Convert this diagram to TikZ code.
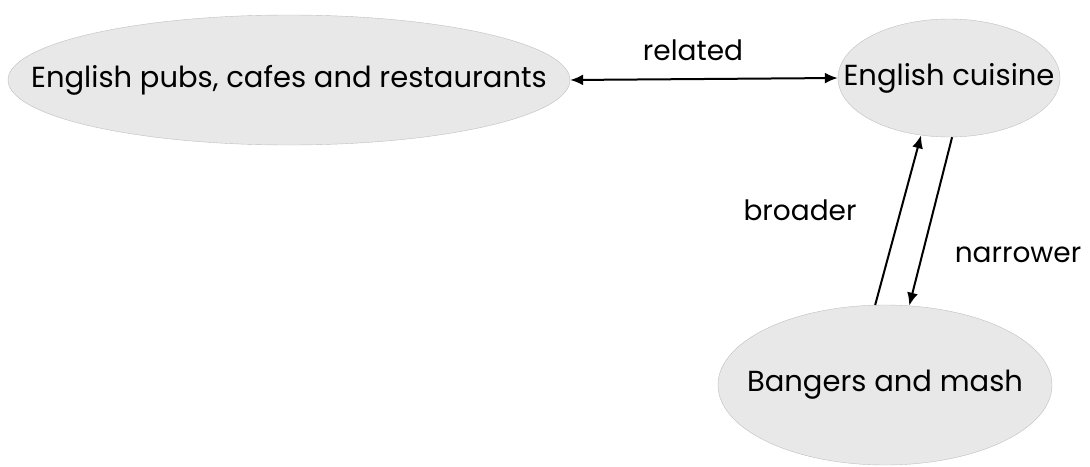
\documentclass[tikz,border=0pt]{standalone}
\usepackage{fontspec}
\setmainfont{Poppins}
\usetikzlibrary{shapes.geometric,arrows.meta}

\begin{document}
\begin{tikzpicture}
[
	x=1pt, y=-1pt,
	concept/.style={ellipse,draw=black!25,fill=black!9,inner xsep=-60pt,inner ysep=0pt,font=\fontsize{29}{32}\selectfont},
	lbl/.style={font=\fontsize{28}{32}\selectfont},
	link/.style={line width=2pt,>={Latex[length=13pt,width=11pt]}}
]

	\useasboundingbox (0,0) rectangle (1090,466);

	% concepts
	\node[concept, minimum width=562pt, minimum height=130pt] (pubs) at (289,80) {English pubs, cafes and restaurants};
	\node[concept, minimum width=222pt, minimum height=118pt] (cuisine) at (949,78) {English cuisine};
	\node[concept, minimum width=334pt, minimum height=160pt] (bangers) at (885,385) {Bangers and mash};

	% relations
	\draw[link,<->] (pubs.east) -- (cuisine.west);
	\draw[link,->] (bangers.97) -- (cuisine.-116);
	\draw[link,->] (cuisine.-87) -- (bangers.73);

	% labels
	\node[lbl] (related) at (693,50) {related};
	\node[lbl] (broader) at (800,210) {broader};
	\node[lbl] (narrower) at (1018,255) {narrower};

\end{tikzpicture}
\end{document}
